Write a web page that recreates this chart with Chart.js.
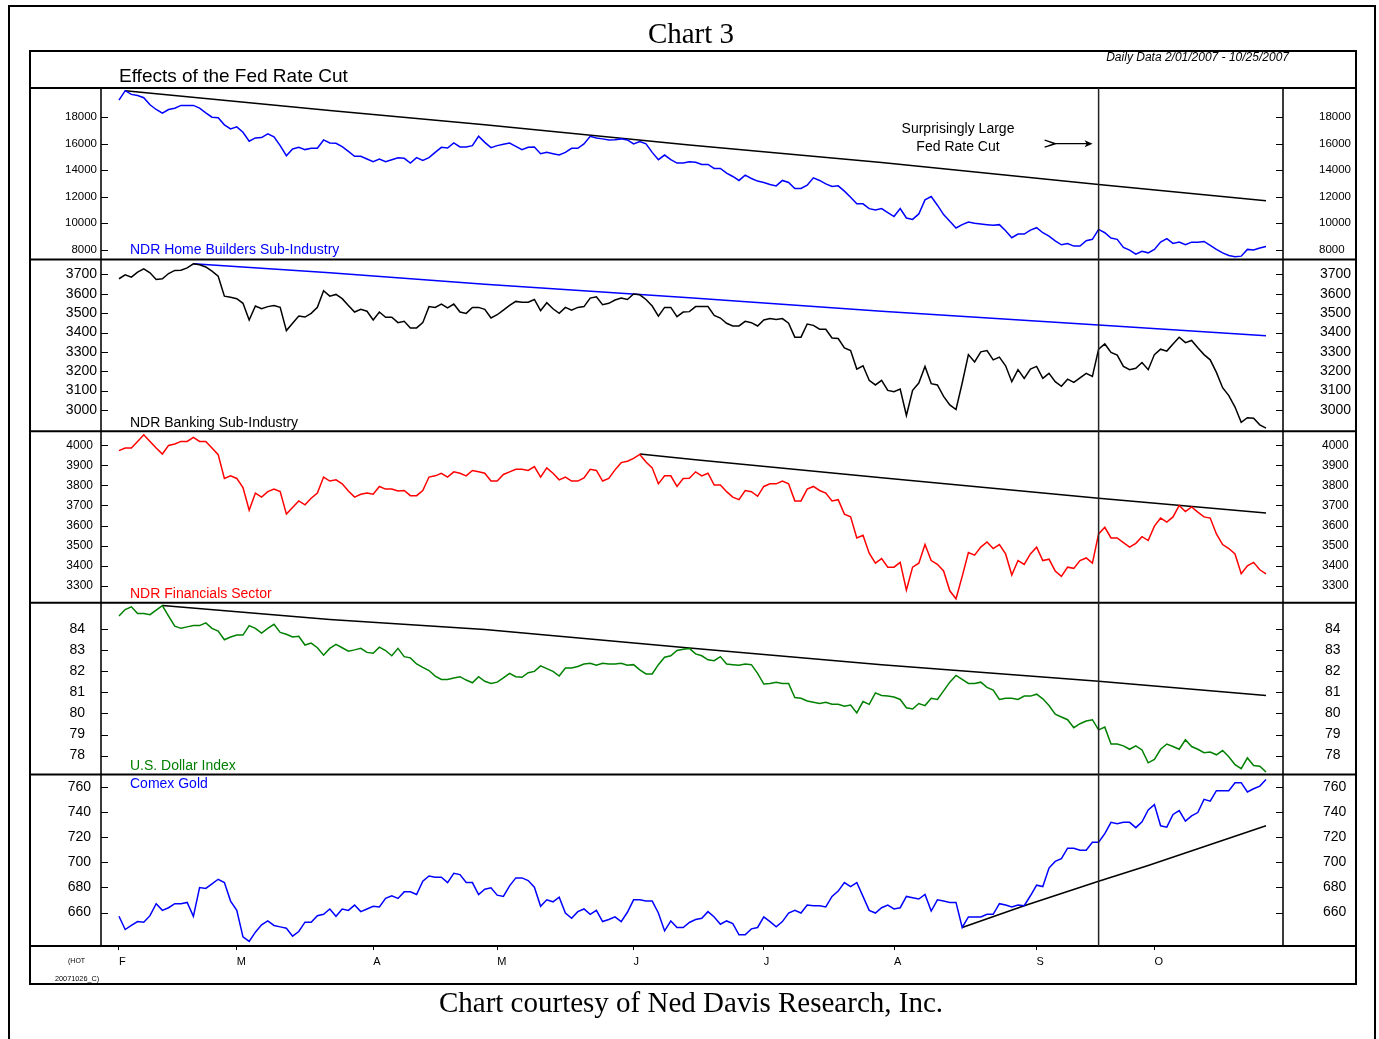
<!DOCTYPE html>
<html>
<head>
<meta charset="utf-8">
<title>Chart 3 - Effects of the Fed Rate Cut</title>
<script src="https://cdn.jsdelivr.net/npm/chart.js@4.4.0/dist/chart.umd.min.js"></script>
<style>
  body { margin: 0; background: #fff; }
  #wrap { position: relative; width: 1379px; height: 1039px; overflow: hidden;
          font-family: "Liberation Sans", Arial, sans-serif; }
  #wrap canvas { position: absolute; left: 0; top: 0; }
  .t { position: absolute; white-space: nowrap; line-height: 1; }
  .serif { font-family: "Liberation Serif", "Times New Roman", serif; font-size: 29px; color: #000; }
  .lbl { font-size: 14px; left: 130px; }
</style>
</head>
<body>
<div id="wrap">
  <canvas id="myChart" width="1379" height="1039"></canvas>

  <div class="t serif" style="left:691px; top:19px; transform:translateX(-50%);">Chart 3</div>
  <div class="t" style="left:119px; top:66px; font-size:19px;">Effects of the Fed Rate Cut</div>
  <div class="t" style="right:90px; top:51px; font-size:12px; font-style:italic;">Daily Data 2/01/2007 - 10/25/2007</div>

  <div class="t" style="left:958px; top:121px; font-size:14px; transform:translateX(-50%);">Surprisingly Large</div>
  <div class="t" style="left:958px; top:139px; font-size:14px; transform:translateX(-50%);">Fed Rate Cut</div>

  <div class="t lbl" style="top:242px; color:#0000ff;">NDR Home Builders Sub-Industry</div>
  <div class="t lbl" style="top:415px; color:#000;">NDR Banking Sub-Industry</div>
  <div class="t lbl" style="top:586px; color:#ff0000;">NDR Financials Sector</div>
  <div class="t lbl" style="top:758px; color:#008000;">U.S. Dollar Index</div>
  <div class="t lbl" style="top:776px; color:#0000ff;">Comex Gold</div>

  <div class="t" style="left:68px; top:957px; font-size:7px;">(HOT</div>
  <div class="t" style="left:55px; top:975px; font-size:7.3px;">20071026_C)</div>

  <div class="t serif" style="left:691px; top:988px; transform:translateX(-50%);">Chart courtesy of Ned Davis Research, Inc.</div>
</div>

<script>
// trading day index: 0 = Feb 1 2007, 185 = Oct 25 2007
const monthDays = [0, 19, 41, 61, 83, 104, 125, 148, 167];
const monthLabels = ['F', 'M', 'A', 'M', 'J', 'J', 'A', 'S', 'O'];
const fedCutDay = 158; // Sep 18 2007

const homeBuilders = [
  19290, 20000, 19720, 19640, 19470, 18940, 18580, 18300, 18580, 18680,
  18890, 18890, 18890, 18680, 18330, 18000, 17950, 17420, 17110, 17270,
  16860, 16180, 16430, 16460, 16740, 16510, 15850, 15090, 15600, 15720,
  15550, 15650, 15650, 16280, 16050, 16030, 15770, 15420, 15040, 15040,
  14840, 14640, 14840, 14640, 14790, 14940, 14890, 14530, 14940, 14740,
  14940, 15340, 15720, 15670, 16050, 15750, 15750, 15850, 16560, 16100,
  15700, 15850, 15950, 16050, 15800, 15550, 15720, 15750, 15240, 15340,
  15240, 15140, 15340, 15650, 15650, 15980, 16560, 16430, 16360, 16280,
  16300, 16360, 16280, 15980, 16150, 15980, 15340, 14790, 15140, 14790,
  14530, 14530, 14640, 14600, 14430, 14430, 14130, 14130, 13770, 13520,
  13220, 13620, 13370, 13170, 13070, 12910, 12810, 13220, 13070, 12610,
  12610, 12860, 13420, 13220, 12960, 12760, 12810, 12410, 11950, 11450,
  11450, 11090, 10990, 11090, 10790, 10490, 11090, 10380, 10280, 10690,
  11750, 12000, 11350, 10640, 10130, 9630, 9880, 10080, 9980, 9930,
  9880, 9830, 9880, 9420, 8890, 9170, 9170, 9470, 9650, 9270,
  9020, 8660, 8360, 8460, 8260, 8260, 8660, 8770, 9520, 9270,
  8870, 8770, 8160, 7960, 7650, 7860, 7750, 8010, 8560, 8820,
  8460, 8560, 8360, 8560, 8560, 8610, 8310, 8010, 7750, 7550,
  7450, 7500, 8010, 7960, 8110, 8230
];
const homeTrendDays = [1, 34, 59, 92, 123, 158, 185];
const homeTrend = [20000, 18510, 17420, 15900, 14580, 12910, 11690];
const homeTicks = [8000, 10000, 12000, 14000, 16000, 18000];

const banking = [
  3678, 3698, 3686, 3712, 3729, 3709, 3674, 3678, 3705, 3721,
  3722, 3734, 3755, 3750, 3739, 3717, 3691, 3588, 3582, 3575,
  3551, 3465, 3537, 3523, 3534, 3540, 3530, 3410, 3448, 3485,
  3480, 3499, 3530, 3616, 3588, 3597, 3575, 3540, 3506, 3520,
  3510, 3465, 3506, 3479, 3479, 3451, 3458, 3424, 3424, 3451,
  3534, 3530, 3547, 3527, 3547, 3506, 3499, 3530, 3530, 3520,
  3475, 3492, 3516, 3540, 3561, 3557, 3557, 3571, 3513, 3554,
  3523, 3499, 3530, 3516, 3530, 3534, 3578, 3585, 3544, 3551,
  3568, 3578, 3571, 3599, 3595, 3571, 3537, 3485, 3530, 3530,
  3482, 3506, 3508, 3534, 3534, 3534, 3489, 3475, 3448, 3434,
  3434, 3458, 3451, 3434, 3465, 3472, 3468, 3472, 3448, 3376,
  3376, 3444, 3437, 3417, 3417, 3372, 3369, 3321, 3307, 3211,
  3228, 3153, 3129, 3153, 3101, 3094, 3108, 2971, 3101, 3139,
  3225, 3136, 3129, 3070, 3026, 3002, 3139, 3286, 3248, 3300,
  3307, 3259, 3273, 3228, 3146, 3208, 3163, 3211, 3225, 3163,
  3189, 3146, 3122, 3159, 3142, 3166, 3189, 3173, 3314, 3341,
  3297, 3283, 3225, 3208, 3215, 3245, 3208, 3286, 3314, 3304,
  3341, 3376, 3348, 3359, 3321, 3286, 3259, 3194, 3115, 3074,
  3015, 2936, 2960, 2957, 2923, 2906
];
const bankTrendDays = [12, 34, 59, 92, 123, 158, 185];
const bankTrend = [3755, 3709, 3650, 3580, 3510, 3439, 3384];
const bankTicks = [3000, 3100, 3200, 3300, 3400, 3500, 3600, 3700];

const financials = [
  3974, 3987, 3987, 4020, 4053, 4020, 3987, 3957, 4000, 4007,
  4020, 4020, 4040, 4020, 4020, 3987, 3954, 3835, 3848, 3835,
  3789, 3676, 3762, 3742, 3769, 3782, 3769, 3657, 3690, 3723,
  3703, 3736, 3762, 3842, 3822, 3828, 3808, 3772, 3742, 3756,
  3762, 3756, 3795, 3782, 3782, 3772, 3775, 3749, 3749, 3775,
  3842, 3848, 3861, 3842, 3868, 3861, 3848, 3875, 3868, 3861,
  3822, 3822, 3855, 3868, 3881, 3881, 3875, 3894, 3842, 3888,
  3861, 3828, 3842, 3822, 3822, 3838, 3881, 3875, 3822, 3835,
  3878, 3914, 3921, 3935, 3955, 3917, 3888, 3808, 3848, 3848,
  3795, 3835, 3836, 3868, 3848, 3861, 3802, 3802, 3769, 3742,
  3729, 3775, 3769, 3746, 3795, 3808, 3808, 3822, 3808, 3723,
  3723, 3782, 3795, 3775, 3762, 3723, 3729, 3657, 3643, 3538,
  3551, 3462, 3412, 3435, 3392, 3392, 3416, 3277, 3392, 3412,
  3505, 3425, 3406, 3373, 3274, 3234, 3346, 3465, 3452, 3492,
  3518, 3485, 3505, 3458, 3353, 3425, 3406, 3458, 3492, 3425,
  3432, 3373, 3346, 3392, 3386, 3425, 3438, 3412, 3558, 3591,
  3538, 3538, 3515, 3492, 3511, 3544, 3525, 3597, 3637, 3617,
  3643, 3700, 3670, 3693, 3667, 3643, 3637, 3558, 3505, 3485,
  3458, 3359, 3399, 3416, 3379, 3359
];
const finTrendDays = [84, 93, 123, 158, 185];
const finTrend = [3957, 3928, 3838, 3736, 3662];
const finTicks = [3300, 3400, 3500, 3600, 3700, 3800, 3900, 4000];

const dollarIndex = [
  84.61, 84.92, 85.05, 84.73, 84.73, 84.68, 84.89, 85.11, 84.61, 84.13,
  84.03, 84.10, 84.16, 84.16, 84.29, 84.03, 83.90, 83.49, 83.62, 83.71,
  83.71, 84.16, 84.03, 83.81, 84.03, 84.22, 83.84, 83.75, 83.62, 83.65,
  83.24, 83.33, 83.11, 82.76, 83.08, 83.27, 83.11, 82.95, 83.01, 83.08,
  82.89, 82.85, 83.14, 82.98, 82.73, 83.08, 82.69, 82.63, 82.34, 82.18,
  82.03, 81.77, 81.61, 81.61, 81.68, 81.74, 81.58, 81.45, 81.74, 81.52,
  81.42, 81.48, 81.68, 81.90, 81.74, 81.71, 81.93, 81.99, 82.25, 82.12,
  81.99, 81.77, 82.15, 82.15, 82.22, 82.34, 82.38, 82.28, 82.38, 82.34,
  82.34, 82.38, 82.28, 82.31, 82.06, 81.87, 81.87, 82.31, 82.66, 82.73,
  82.98, 83.04, 83.08, 82.82, 82.73, 82.54, 82.50, 82.69, 82.34, 82.31,
  82.28, 82.34, 82.31, 81.90, 81.39, 81.42, 81.48, 81.42, 81.42, 80.75,
  80.72, 80.59, 80.53, 80.47, 80.53, 80.43, 80.43, 80.34, 80.40, 80.02,
  80.56, 80.43, 80.97, 80.85, 80.82, 80.78, 80.66, 80.27, 80.21, 80.47,
  80.37, 80.72, 80.66, 81.07, 81.48, 81.80, 81.61, 81.42, 81.42, 81.48,
  81.23, 81.10, 80.66, 80.72, 80.72, 80.66, 80.82, 80.82, 80.91, 80.69,
  80.37, 79.96, 79.83, 79.70, 79.32, 79.51, 79.64, 79.70, 79.22, 79.35,
  78.55, 78.55, 78.46, 78.30, 78.46, 78.27, 77.66, 77.82, 78.30, 78.55,
  78.43, 78.30, 78.75, 78.43, 78.30, 78.14, 78.17, 78.04, 78.24, 77.95,
  77.57, 77.38, 77.89, 77.53, 77.50, 77.22
];
const dollarTrendDays = [7, 34, 59, 92, 123, 158, 185];
const dollarTrend = [85.11, 84.45, 83.97, 83.10, 82.31, 81.52, 80.85];
const dollarTicks = [78, 79, 80, 81, 82, 83, 84];

const comexGold = [
  657.1, 646.6, 649.8, 652.9, 652.4, 657.6, 667.1, 661.8, 663.9, 667.1,
  667.1, 668.1, 657.1, 679.9, 679.2, 682.8, 686.5, 683.9, 669.2, 661.8,
  640.8, 637.1, 644.5, 650.3, 653.4, 649.8, 648.7, 647.6, 641.3, 645.0,
  652.4, 652.4, 657.6, 658.7, 662.9, 657.1, 662.9, 661.8, 666.0, 660.8,
  662.9, 665.0, 664.5, 671.3, 673.4, 671.3, 676.5, 676.5, 674.4, 684.9,
  689.1, 688.1, 688.1, 683.9, 691.2, 690.2, 683.9, 683.9, 674.4, 678.6,
  679.7, 673.9, 672.9, 681.3, 687.6, 687.6, 685.5, 680.2, 665.0, 670.2,
  668.6, 672.3, 659.7, 655.5, 660.8, 662.9, 658.7, 661.8, 652.9, 654.5,
  656.6, 652.9, 660.3, 670.2, 670.2, 669.2, 669.2, 659.7, 645.5, 653.4,
  648.2, 648.2, 652.2, 654.5, 655.5, 660.8, 656.6, 650.8, 653.4, 651.3,
  642.4, 642.4, 647.1, 648.2, 656.6, 652.9, 648.7, 652.9, 659.7, 661.8,
  659.7, 666.0, 665.5, 665.5, 664.5, 672.9, 677.1, 683.9, 680.7, 683.9,
  672.9, 661.8, 659.7, 663.9, 666.0, 662.9, 663.9, 672.9, 671.8, 670.8,
  674.4, 661.3, 670.2, 669.2, 668.1, 668.1, 648.2, 656.6, 656.6, 656.6,
  658.7, 658.7, 667.1, 666.0, 664.5, 666.0, 665.5, 673.4, 681.8, 680.7,
  695.4, 700.7, 702.8, 711.2, 711.2, 709.6, 709.6, 715.9, 715.9, 722.7,
  731.7, 730.6, 731.7, 731.7, 727.5, 732.2, 741.6, 745.8, 729.0, 727.9,
  738.0, 741.1, 732.7, 736.9, 739.5, 750.0, 748.5, 756.9, 756.9, 756.9,
  763.2, 763.2, 755.8, 758.4, 760.5, 765.8
];
const goldTrendDays = [136, 146, 158, 166, 185];
const goldTrend = [648.2, 665.5, 684.9, 697.4, 729.0];
const goldTicks = [660, 680, 700, 720, 740, 760];

// panel settings, top to bottom
const panels = [
  { id: 'hb', values: homeBuilders, color: '#0000ff', tDays: homeTrendDays, tVals: homeTrend, tColor: '#000000',
    min: 7240, max: 20204, ticks: homeTicks, size: 11.5, padL: 4, padR: 36 },
  { id: 'bank', values: banking, color: '#000000', tDays: bankTrendDays, tVals: bankTrend, tColor: '#0000ff',
    min: 2890, max: 3777, ticks: bankTicks, size: 14, padL: 4, padR: 37 },
  { id: 'fin', values: financials, color: '#ff0000', tDays: finTrendDays, tVals: finTrend, tColor: '#000000',
    min: 3214, max: 4071, ticks: finTicks, size: 12, padL: 8, padR: 39 },
  { id: 'usd', values: dollarIndex, color: '#008000', tDays: dollarTrendDays, tVals: dollarTrend, tColor: '#000000',
    min: 77.11, max: 85.24, ticks: dollarTicks, size: 14, padL: 16, padR: 42 },
  { id: 'gold', values: comexGold, color: '#0000ff', tDays: goldTrendDays, tVals: goldTrend, tColor: '#000000',
    min: 633.5, max: 769.8, ticks: goldTicks, size: 14, padL: 10, padR: 40 }
];

Chart.defaults.font.family = "'Liberation Sans', Arial, sans-serif";
Chart.defaults.color = '#000';

const datasets = [];
const scales = {
  x: {
    type: 'linear',
    position: 'bottom',
    min: -2.9,
    max: 187.74,
    afterBuildTicks: (s) => { s.ticks = monthDays.map(v => ({ value: v })); },
    afterFit: (s) => { s.height = 38; },
    grid: { drawOnChartArea: false, drawTicks: true, tickLength: 4, color: '#000', lineWidth: 1 },
    border: { display: false },
    ticks: {
      autoSkip: false,
      maxRotation: 0,
      align: 'start',
      padding: 5,
      font: { size: 11 },
      callback: (v) => { const i = monthDays.indexOf(v); return i >= 0 ? monthLabels[i] : ''; }
    }
  }
};

panels.forEach((p, i) => {
  datasets.push({
    data: p.values.map((v, d) => ({ x: d, y: v })),
    yAxisID: p.id,
    borderColor: p.color,
    borderWidth: 1.5
  });
  datasets.push({
    data: p.tDays.map((d, k) => ({ x: d, y: p.tVals[k] })),
    yAxisID: p.id,
    borderColor: p.tColor,
    borderWidth: 1.5
  });
  const common = {
    type: 'linear',
    min: p.min,
    max: p.max,
    afterBuildTicks: (s) => { s.ticks = p.ticks.map(v => ({ value: v })); },
    grid: { display: false, drawTicks: false },
    border: { display: true, color: '#3a3a3a', width: 2 }
  };
  scales[p.id] = Object.assign({}, common, {
    position: 'left', stack: 'left', weight: panels.length - i,
    afterFit: (s) => { s.width = 72; },
    ticks: { autoSkip: false, font: { size: p.size }, padding: p.padL, callback: (v) => String(v) }
  });
  scales[p.id + 'R'] = Object.assign({}, common, {
    position: 'right', stack: 'right', weight: i + 1,
    afterFit: (s) => { s.width = 73; },
    ticks: { autoSkip: false, font: { size: p.size }, padding: p.padR, callback: (v) => String(v) }
  });
});

const decorations = {
  id: 'decorations',
  afterDraw(chart) {
    const { ctx, chartArea: a, scales: sc } = chart;
    const boxL = 29, boxR = 1356;
    ctx.save();
    ctx.strokeStyle = '#000';
    ctx.lineWidth = 2;

    // page frame
    ctx.beginPath();
    ctx.moveTo(9, 1039); ctx.lineTo(9, 6); ctx.lineTo(1375, 6); ctx.lineTo(1375, 1039);
    ctx.stroke();

    // inner box
    ctx.strokeRect(boxL + 1, 51, boxR - boxL - 1, 933);

    // panel separators, header rule and bottom rule
    const ys = panels.map(p => sc[p.id].top).concat([a.bottom]);
    ctx.beginPath();
    ys.forEach(y => { ctx.moveTo(boxL, y); ctx.lineTo(boxR, y); });
    ctx.stroke();

    // tick marks on the inside of both axes
    ctx.lineWidth = 1.2;
    ctx.beginPath();
    panels.forEach(p => {
      sc[p.id].ticks.forEach(t => {
        const y = Math.round(sc[p.id].getPixelForValue(t.value)) + 0.5;
        ctx.moveTo(a.left, y); ctx.lineTo(a.left + 7, y);
        ctx.moveTo(a.right - 7, y); ctx.lineTo(a.right, y);
      });
    });
    ctx.stroke();

    // Fed rate cut marker
    const fx = sc.x.getPixelForValue(fedCutDay);
    ctx.strokeStyle = '#222';
    ctx.lineWidth = 1.5;
    ctx.beginPath();
    ctx.moveTo(fx, a.top); ctx.lineTo(fx, a.bottom);
    ctx.stroke();

    // arrow pointing at the marker
    const ay = sc.hb.getPixelForValue(16000);
    const x0 = sc.x.getPixelForValue(149.3);
    const x1 = fx - 6;
    ctx.strokeStyle = '#000';
    ctx.lineWidth = 1.3;
    ctx.beginPath();
    ctx.moveTo(x0 + 8, ay); ctx.lineTo(x1 - 4, ay);
    ctx.moveTo(x0, ay - 3.5); ctx.lineTo(x0 + 11, ay); ctx.lineTo(x0, ay + 3.5);
    ctx.moveTo(x0 + 3, ay - 2.5); ctx.lineTo(x0 + 10, ay); ctx.lineTo(x0 + 3, ay + 2.5);
    ctx.stroke();
    ctx.fillStyle = '#000';
    ctx.beginPath();
    ctx.moveTo(x1, ay); ctx.lineTo(x1 - 8, ay - 3.5); ctx.lineTo(x1 - 6, ay); ctx.lineTo(x1 - 8, ay + 3.5);
    ctx.closePath();
    ctx.fill();
    ctx.restore();
  }
};

new Chart(document.getElementById('myChart'), {
  type: 'line',
  data: { datasets: datasets },
  options: {
    responsive: false,
    animation: false,
    events: [],
    layout: { padding: { left: 29, right: 23, top: 88, bottom: 55 } },
    elements: { point: { radius: 0 }, line: { tension: 0, fill: false } },
    plugins: { legend: { display: false }, tooltip: { enabled: false } },
    scales: scales
  },
  plugins: [decorations]
});
</script>
</body>
</html>
